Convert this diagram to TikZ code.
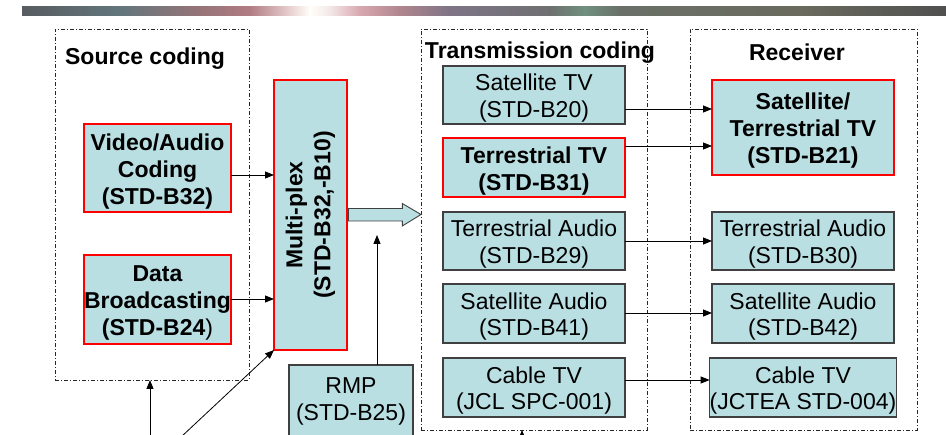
\documentclass[tikz,border=0pt]{standalone}
\usepackage{fontspec}
\setmainfont{Liberation Sans}
\usetikzlibrary{arrows.meta,calc}
\definecolor{boxfill}{RGB}{185,223,227}
\definecolor{boxline}{RGB}{64,64,64}
\definecolor{bA}{RGB}{88,92,96}
\definecolor{bB}{RGB}{98,118,124}
\definecolor{bC}{RGB}{150,116,120}
\definecolor{bD}{RGB}{176,124,130}
\definecolor{bE}{RGB}{232,208,208}
\definecolor{bF}{RGB}{255,255,250}
\definecolor{bG}{RGB}{244,232,232}
\definecolor{bH}{RGB}{216,168,176}
\definecolor{bI}{RGB}{176,134,142}
\definecolor{bJ}{RGB}{126,116,134}
\definecolor{bK}{RGB}{110,112,112}
\definecolor{bL}{RGB}{112,144,126}
\definecolor{bM}{RGB}{106,112,104}
\definecolor{bN}{RGB}{106,106,94}
\definecolor{bO}{RGB}{80,80,80}
\newcommand\fs{\rule{0pt}{23pt}}
\begin{document}
\begin{tikzpicture}[x=1pt,y=-1pt,
  every node/.style={inner sep=0pt, outer sep=0pt, align=center, font=\fontsize{23}{26.5}\selectfont},
  nbox/.style={draw=boxline, line width=1.2pt, fill=boxfill},
  rbox/.style={draw=red, line width=2.6pt, fill=boxfill, font=\fontsize{23}{27}\selectfont\bfseries},
  frame/.style={draw=black!85, line width=0.9pt, dash pattern=on 4pt off 2pt on 1pt off 2pt},
  title/.style={font=\fontsize{23}{26.5}\selectfont\bfseries},
  arr/.style={-{Triangle[length=9pt,width=7pt]}, line width=0.8pt},
  conn/.style={line width=0.8pt}]
\useasboundingbox (0,0) rectangle (946,435);
\clip (0,0) rectangle (946,435);
% top band
\shade[left color=bA, right color=bB] (22,7) rectangle (120,15.5);
\shade[left color=bB, right color=bC] (119.5,7) rectangle (200,15.5);
\shade[left color=bC, right color=bD] (199.5,7) rectangle (250,15.5);
\shade[left color=bD, right color=bE] (249.5,7) rectangle (290,15.5);
\shade[left color=bE, right color=bF] (289.5,7) rectangle (310,15.5);
\shade[left color=bF, right color=bG] (309.5,7) rectangle (330,15.5);
\shade[left color=bG, right color=bH] (329.5,7) rectangle (360,15.5);
\shade[left color=bH, right color=bI] (359.5,7) rectangle (400,15.5);
\shade[left color=bI, right color=bJ] (399.5,7) rectangle (450,15.5);
\shade[left color=bJ, right color=bK] (449.5,7) rectangle (550,15.5);
\shade[left color=bK, right color=bL] (549.5,7) rectangle (585,15.5);
\shade[left color=bL, right color=bM] (584.5,7) rectangle (620,15.5);
\shade[left color=bM, right color=bN] (619.5,7) rectangle (800,15.5);
\shade[left color=bN, right color=bO] (799.5,7) rectangle (946,15.5);
% frames
\node[frame, minimum width=194pt, minimum height=351pt] (src) at (152,204.5) {};
\node[frame, minimum width=226pt, minimum height=401pt] (tx) at (534,229.5) {};
\node[frame, minimum width=227pt, minimum height=401pt] (rx) at (803.5,229.5) {};
\node[title] (srct) at (145,55) {\fs Source coding};
\node[title] (txt) at (540,49) {\fs Transmission coding};
\node[title] (rxt) at (797,49) {\fs Receiver};
% source coding
\node[rbox, minimum width=147pt, minimum height=88pt] (va) at (157.5,168) {\fs Video/Audio\\Coding\\(STD-B32)};
\node[rbox, minimum width=147pt, minimum height=89pt] (db) at (157.5,299.5) {\fs Data\\Broadcasting\\(STD-B24\textmd{)}};
\node[rbox, minimum width=73pt, minimum height=270pt] (mux) at (310.5,215) {};
\node[rotate=90, font=\fontsize{23}{28}\selectfont\bfseries] (muxt) at (mux.center) {Multi-plex\\(STD-B32,-B10)};
\node[draw=boxline, line width=1.2pt, fill=boxfill, minimum width=124pt, minimum height=85pt] (rmp) at (351,407.5) {};
\node (rmpt) at (351,401.5) {RMP\\(STD-B25)};
% transmission
\node[nbox, minimum width=182pt, minimum height=58pt] (st) at (534,95) {\fs Satellite TV\\(STD-B20)};
\node[rbox, minimum width=182pt, minimum height=59pt] (tt) at (534,167.5) {\fs Terrestrial TV\\(STD-B31)};
\node[nbox, minimum width=182pt, minimum height=58pt] (ta) at (534,241) {\fs Terrestrial Audio\\(STD-B29)};
\node[nbox, minimum width=182pt, minimum height=59pt] (sa) at (534,313.5) {\fs Satellite Audio\\(STD-B41)};
\node[nbox, minimum width=182pt, minimum height=59pt] (ct) at (534,387.5) {\fs Cable TV\\(JCL SPC-001)};
% receiver
\node[rbox, minimum width=182pt, minimum height=95pt] (rtv) at (803,127.5) {\fs Satellite/\\Terrestrial TV\\(STD-B21)};
\node[nbox, minimum width=182pt, minimum height=58pt] (rta) at (803,241) {\fs Terrestrial Audio\\(STD-B30)};
\node[nbox, minimum width=182pt, minimum height=59pt] (rsa) at (803,313.5) {\fs Satellite Audio\\(STD-B42)};
\node[nbox, minimum width=182pt, minimum height=59pt] (rct) at (803,387.5) {\fs Cable TV\\(JCTEA STD-004)};
% helper coordinates
\coordinate (y175) at (0,175);
\coordinate (y299) at (0,299);
\coordinate (y109) at (0,109);
\coordinate (y146) at (0,146);
\coordinate (y241) at (0,241);
\coordinate (y313) at (0,313);
\coordinate (y380) at (0,380);
\coordinate (rmpend) at (377,235);
\coordinate (b1) at (150,445);
\coordinate (b2) at (172.5,445);
\coordinate (b3) at (522,445);
% connectors
\draw[arr] (va.east |- y175) -- (mux.west |- y175);
\draw[arr] (db.east |- y299) -- (mux.west |- y299);
\draw[arr] (st.east |- y109) -- (rtv.west |- y109);
\draw[arr] (tt.east |- y146) -- (rtv.west |- y146);
\draw[arr] (ta.east |- y241) -- (rta.west |- y241);
\draw[arr] (sa.east |- y313) -- (rsa.west |- y313);
\draw[arr] (ct.east |- y380) -- (rct.west |- y380);
\draw[arr] (rmpend |- rmp.north) -- (rmpend);
\draw[arr] (b1) -- (b1 |- src.south);
\draw[arr] (b2) -- (mux.south west);
\draw[arr] (b3) -- (b3 |- tx.south);
% block arrow
\draw[draw=boxline, line width=0.9pt, fill=boxfill]
  ($(mux.east)+(1.3,-6.5)$) -- ++(54,0) -- ++(0,-5) -- ($(tx.west |- mux.east)+(0,-0.5)$)
  -- ($(mux.east)+(55.3,11)$) -- ++(0,-5) -- ($(mux.east)+(1.3,6)$) -- cycle;
\end{tikzpicture}
\end{document}
